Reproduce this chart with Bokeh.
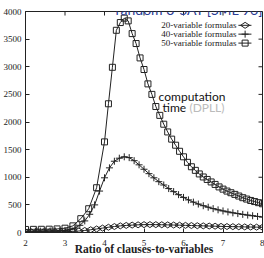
import math
from bokeh.plotting import figure
from bokeh.models import Label, Range1d
from bokeh.embed import file_html
from bokeh.resources import INLINE

# ---- data ----
ratio20 = [2.0, 2.15, 2.3, 2.45, 2.6, 2.75, 2.9, 3.05, 3.2, 3.35, 3.5, 3.65, 3.8, 3.95,
           4.1, 4.25, 4.4, 4.55, 4.7, 4.85, 5.0, 5.15, 5.3, 5.45, 5.6, 5.75, 5.9, 6.05,
           6.2, 6.35, 6.5, 6.65, 6.8, 6.95, 7.1, 7.25, 7.4, 7.55, 7.7, 7.85, 8.0]
time20 = [10, 10, 11, 11, 12, 13, 14, 16, 20, 27, 37, 50, 64, 80,
          95, 108, 120, 128, 134, 139, 142, 143, 142, 140, 138, 135, 132, 129,
          126, 123, 120, 117, 114, 111, 108, 106, 104, 101, 99, 97, 95]

ratio40 = [2.0, 2.125, 2.25, 2.375, 2.5, 2.625, 2.75, 2.875, 3.0, 3.125, 3.25, 3.375,
           3.5, 3.625, 3.75, 3.875, 4.0, 4.125, 4.25, 4.375, 4.5, 4.625, 4.75, 4.875,
           5.0, 5.125, 5.25, 5.375, 5.5, 5.625, 5.75, 5.875, 6.0, 6.125, 6.25, 6.375,
           6.5, 6.625, 6.75, 6.875, 7.0, 7.125, 7.25, 7.375, 7.5, 7.625, 7.75, 7.875, 8.0]
time40 = [22, 23, 24, 25, 26, 28, 30, 33, 38, 50, 80, 130,
          210, 330, 500, 750, 990, 1170, 1290, 1345, 1370, 1355, 1300, 1225,
          1145, 1065, 990, 920, 860, 795, 740, 685, 635, 590, 550, 515,
          485, 458, 432, 410, 390, 372, 356, 342, 328, 315, 303, 291, 280]

ratio50 = [2.0, 2.2, 2.4, 2.6, 2.8, 3.0, 3.2, 3.4, 3.6, 3.8,
           4.0, 4.1, 4.2, 4.3, 4.4, 4.5, 4.6, 4.7, 4.8, 4.9,
           5.0, 5.1, 5.2, 5.3, 5.4, 5.5, 5.6, 5.7, 5.8, 5.9,
           6.0, 6.1, 6.2, 6.3, 6.4, 6.5, 6.6, 6.7, 6.8, 6.9,
           7.0, 7.1, 7.2, 7.3, 7.4, 7.5, 7.6, 7.7, 7.8, 7.9, 8.0]
time50 = [55, 57, 58, 60, 65, 78, 120, 250, 430, 810,
          1640, 2330, 2990, 3660, 3800, 3880, 3830, 3600, 3420, 3160,
          2950, 2690, 2500, 2280, 2120, 1960, 1820, 1690, 1580, 1470,
          1370, 1270, 1190, 1125, 1060, 1005, 960, 915, 870, 825,
          785, 750, 720, 690, 660, 630, 605, 580, 560, 540, 520]

x_ticks = [2, 3, 4, 5, 6, 7, 8]
y_ticks = [0, 500, 1000, 1500, 2000, 2500, 3000, 3500, 4000]
legend_labels = ["20-variable formulas", "40-variable formulas", "50-variable formulas"]
x_label = "Ratio of clauses-to-variables"
title_text = "random 3-SAT [SML 96]"
note_line1 = "computation"
note_time = "time"
note_dpll = "(DPLL)"

INK = "#222222"
SERIF = "Liberation Serif"
SANS = "Lato"
X0, X1, Y0, Y1 = 2, 8, 0, 4000

p = figure(width=264, height=258, x_range=Range1d(X0, X1), y_range=Range1d(Y0, Y1),
           output_backend="svg", toolbar_location=None,
           min_border_left=25, min_border_right=2, min_border_top=11, min_border_bottom=26)
p.xgrid.visible = False
p.ygrid.visible = False
p.outline_line_color = INK
p.outline_line_width = 1
p.background_fill_color = "white"
p.border_fill_color = "white"

for ax in (p.xaxis[0], p.yaxis[0]):
    ax.major_tick_in = 4
    ax.major_tick_out = 0
    ax.minor_tick_line_color = None
    ax.axis_line_color = INK
    ax.major_tick_line_color = INK
    ax.major_label_text_font = SERIF
    ax.major_label_text_font_size = "9px"
    ax.major_label_text_color = INK
p.xaxis.ticker = x_ticks
p.yaxis.ticker = y_ticks
p.xaxis.major_label_standoff = 7
p.yaxis.major_label_standoff = 4
p.xaxis.axis_label = x_label
p.xaxis.axis_label_text_font = SERIF
p.xaxis.axis_label_text_font_style = "bold"
p.xaxis.axis_label_text_font_size = "11.5px"
p.xaxis.axis_label_text_color = INK
p.xaxis.axis_label_standoff = -6

# mirrored tick marks on the top and right edges (4 px long, pointing inward)
tick_dy = 4 * (Y1 - Y0) / 220.0
tick_dx = 4 * (X1 - X0) / 237.0
p.segment(x0=x_ticks, y0=[Y1] * len(x_ticks), x1=x_ticks, y1=[Y1 - tick_dy] * len(x_ticks),
          line_color=INK, line_width=1)
p.segment(x0=[X1] * len(y_ticks), y0=y_ticks, x1=[X1 - tick_dx] * len(y_ticks), y1=y_ticks,
          line_color=INK, line_width=1)

# series
p.line(ratio20, time20, line_color=INK, line_width=1)
p.scatter(ratio20, time20, marker="diamond", size=9, angle=math.pi / 2,
          fill_color=None, line_color=INK, line_width=1)
p.line(ratio40, time40, line_color=INK, line_width=1)
p.scatter(ratio40, time40, marker="cross", size=7, line_color=INK, line_width=1)
p.line(ratio50, time50, line_color=INK, line_width=1)
p.scatter(ratio50, time50, marker="square", size=6,
          fill_color=None, line_color=INK, line_width=1)

# legend (text on the left, key on the right, as in the reference)
leg_text_x = 7.34
leg_key_x0, leg_key_x1, leg_key_xm = 7.39, 7.72, 7.56
leg_rows_y = [3750, 3590, 3428]
leg_markers = [dict(marker="diamond", size=9, angle=math.pi / 2, fill_color=None),
               dict(marker="cross", size=7),
               dict(marker="square", size=6, fill_color=None)]
for lab, yy, mk in zip(legend_labels, leg_rows_y, leg_markers):
    p.add_layout(Label(x=leg_text_x, y=yy, text=lab, text_align="right",
                       text_baseline="middle", text_font=SERIF, text_font_size="9px",
                       text_color=INK))
    p.line([leg_key_x0, leg_key_x1], [yy, yy], line_color=INK, line_width=1)
    p.scatter([leg_key_xm], [yy], line_color=INK, line_width=1, **mk)

# overlay texts
p.add_layout(Label(x=8.02, y=4045, text=title_text, text_align="right",
                   text_baseline="alphabetic", text_font=SANS, text_font_size="14px",
                   text_color="#2a3c96"))
p.add_layout(Label(x=5.37, y=2455, text=note_line1, text_align="left",
                   text_baseline="alphabetic", text_font=SANS, text_font_size="12px",
                   text_color="#111111"))
p.add_layout(Label(x=5.47, y=2255, text=note_time, text_align="left",
                   text_baseline="alphabetic", text_font=SANS, text_font_size="12px",
                   text_color="#111111"))
p.add_layout(Label(x=6.15, y=2255, text=note_dpll, text_align="left",
                   text_baseline="alphabetic", text_font=SANS, text_font_size="12px",
                   text_color="#bbbbbb"))

open("out.html", "w").write(file_html(p, INLINE))
